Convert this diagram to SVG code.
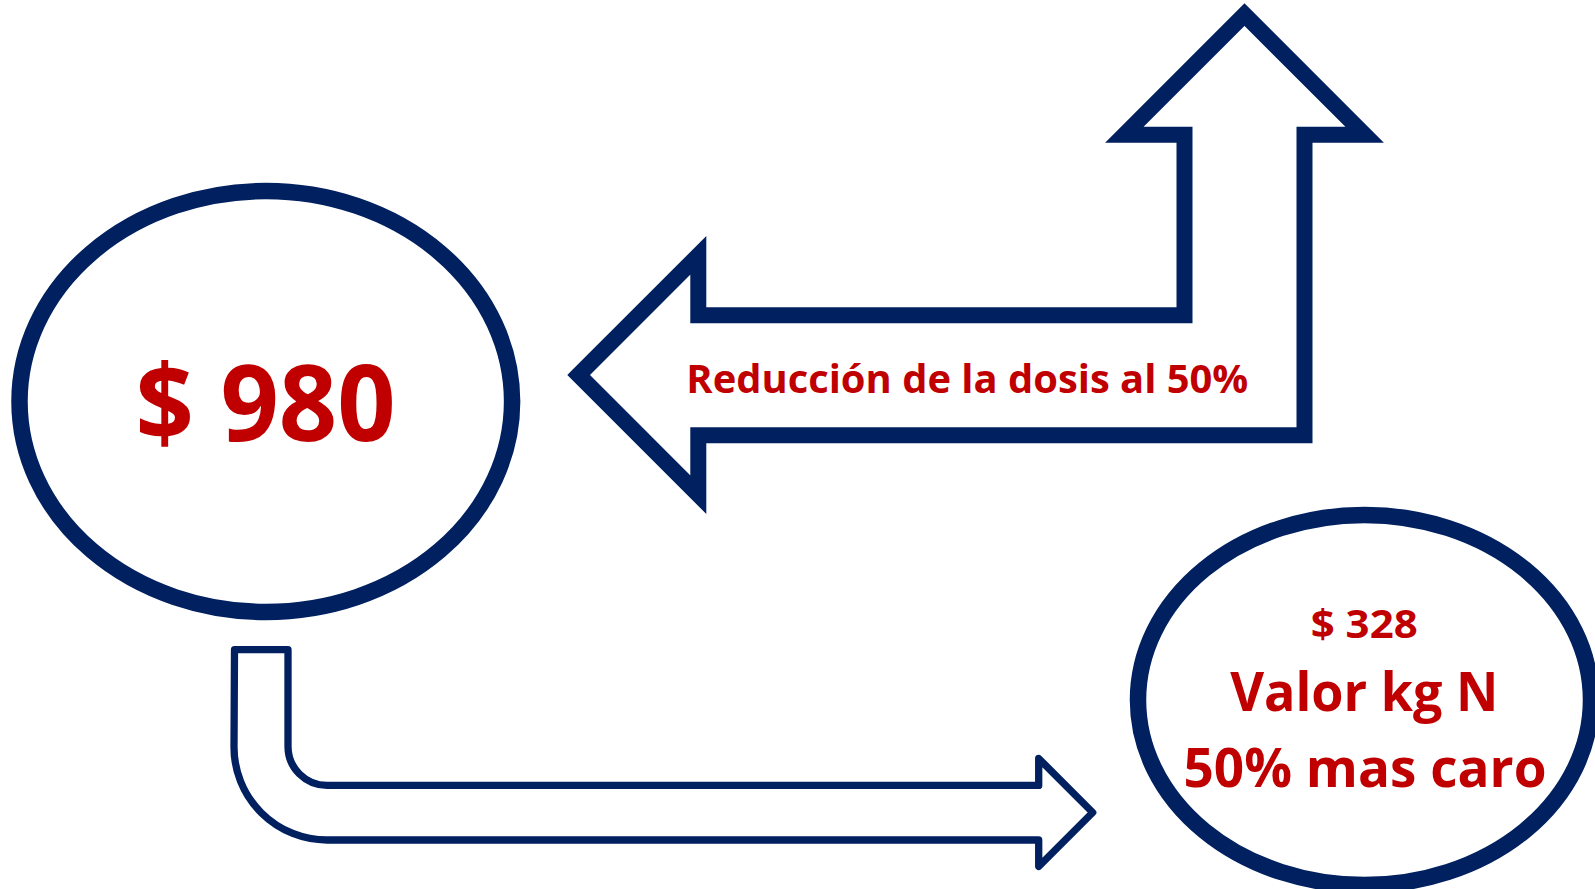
<svg xmlns="http://www.w3.org/2000/svg" width="1595" height="889" viewBox="0 0 1595 889">
<style>
.node{fill:#ffffff;stroke:#002060;stroke-width:16.5}
.arrow{fill:#ffffff;stroke:#002060;stroke-width:16;stroke-linejoin:miter;stroke-miterlimit:10}
.arrow2{fill:#ffffff;stroke:#002060;stroke-width:7.3;stroke-linejoin:round}
.t{font-family:"Open Sans",Lato,"Liberation Sans",sans-serif;font-weight:bold;fill:#C00000;text-anchor:middle}
</style>
<rect width="1595" height="889" fill="#ffffff"/>
<g id="connectors">
<path class="arrow" d="M578.6 375 L698.3 255.3 L698.3 315.3 L1184.5 315.3 L1184.5 134.7 L1124.4 134.7 L1244.5 14.6 L1364.6 134.7 L1304.5 134.7 L1304.5 435.3 L698.3 435.3 L698.3 494.7 Z"/>
<path class="arrow2" d="M234.5 649.7 L288 649.7 L288 746.5 A39 39 0 0 0 327 785.4 L1038.7 785.4 L1038.7 758.5 L1092.7 812.5 L1038.7 866.5 L1038.7 840 L327 840 A93 93 0 0 1 234 747 Z"/>
<text class="t" x="967.3" y="392.7" font-size="38.6" textLength="562" lengthAdjust="spacingAndGlyphs">Reducción de la dosis al 50%</text>
</g>
<g id="node-980">
<ellipse class="node" cx="265.8" cy="401.5" rx="246.3" ry="210.5"/>
<text class="t" x="265.5" y="440.7" font-size="105" textLength="260" lengthAdjust="spacingAndGlyphs">$ 980</text>
</g>
<g id="node-328">
<ellipse class="node" cx="1364.5" cy="700" rx="226.5" ry="185"/>
<text class="t" x="1364.2" y="638" font-size="39.5" textLength="107" lengthAdjust="spacingAndGlyphs">$ 328</text>
<text class="t" x="1364.2" y="710.7" font-size="54.4" textLength="268" lengthAdjust="spacingAndGlyphs">Valor kg N</text>
<text class="t" x="1365" y="787.3" font-size="54.4" textLength="363" lengthAdjust="spacingAndGlyphs">50% mas caro</text>
</g>
</svg>
